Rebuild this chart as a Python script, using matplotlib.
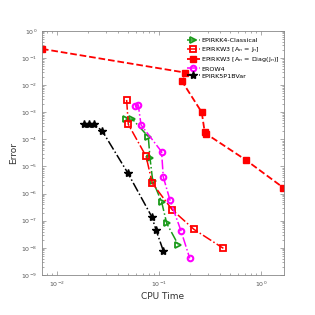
import numpy as np
import matplotlib
matplotlib.use("Agg")
import matplotlib.pyplot as plt
from matplotlib.ticker import LogLocator, NullFormatter

# data (CPU time, error)
k4_time = [0.0472, 0.0548, 0.0785, 0.0817, 0.0867, 0.106, 0.119, 0.155]
k4_err = [5.6e-4, 5.6e-4, 1.26e-4, 2.0e-5, 3.0e-6, 5.0e-7, 8.0e-8, 1.26e-8]

w3j_time = [0.0482, 0.050, 0.0746, 0.086, 0.135, 0.22, 0.427]
w3j_err = [2.84e-3, 3.6e-4, 2.4e-5, 2.4e-6, 2.5e-7, 4.8e-8, 9.6e-9]

w3d_time = [0.00713, 0.18, 0.167, 0.262, 0.28, 0.29, 0.708, 1.65]
w3d_err = [0.217, 0.029, 0.0143, 1.0e-3, 1.9e-4, 1.6e-4, 1.74e-5, 1.65e-6]

erow_time = [0.0582, 0.0627, 0.0667, 0.106, 0.110, 0.128, 0.164, 0.200]
erow_err = [1.74e-3, 1.8e-3, 3.4e-4, 3.5e-5, 4.2e-6, 5.8e-7, 4.3e-8, 4.1e-9]

p5_time = [0.0185, 0.0206, 0.0231, 0.0278, 0.0493, 0.085, 0.0935, 0.110]
p5_err = [3.6e-4, 3.6e-4, 3.6e-4, 2.04e-4, 5.9e-6, 1.4e-7, 4.6e-8, 7.9e-9]

labels = ["EPIRKK4-Classical",
          r"EPIRKW3 [A$_n$ = J$_n$]",
          r"EPIRKW3 [A$_n$ = Diag(J$_n$)]",
          "EROW4",
          "EPIRK5P1BVar"]

fig = plt.figure(figsize=(3.15, 3.15), dpi=100)
ax = fig.add_axes([0.133, 0.127, 0.769, 0.775])

lw = 1.1
ax.plot(k4_time, k4_err, '-.', color='#1a9a1a', marker='>', ms=4.5, mfc='none',
        mew=1.3, lw=lw, label=labels[0])
ax.plot(w3j_time, w3j_err, '-.', color='#ff0000', marker='s', ms=4, mfc='none',
        mew=1.3, lw=lw, label=labels[1])
ax.plot(w3d_time, w3d_err, '--', color='#ff0000', marker='s', ms=4,
        lw=1.3, label=labels[2])
ax.plot(erow_time, erow_err, '-.', color='#ff00ff', marker='o', ms=4, mfc='none',
        mew=1.5, lw=lw, label=labels[3])
ax.plot(p5_time, p5_err, '-.', color='black', marker='*', ms=6,
        lw=lw, label=labels[4])

ax.set_xscale('log')
ax.set_yscale('log')
ax.set_xlim(0.00713, 1.68)
ax.set_ylim(1e-9, 1)
ax.set_yticks([10.0**k for k in range(-9, 1)])
ax.set_xticks([1e-2, 1e-1, 1e0])
ax.yaxis.set_minor_locator(LogLocator(base=10, subs=np.arange(2, 10), numticks=20))
ax.yaxis.set_minor_formatter(NullFormatter())
ax.xaxis.set_minor_locator(LogLocator(base=10, subs=np.arange(2, 10), numticks=20))
ax.xaxis.set_minor_formatter(NullFormatter())

for s in ax.spines.values():
    s.set_color('#888888')
    s.set_linewidth(0.6)
ax.tick_params(which='both', direction='in', top=True, right=True,
               color='#888888', labelsize=4.5, labelcolor='#555555', width=0.5)
ax.tick_params(which='major', length=3)
ax.tick_params(which='minor', length=1.5)

ax.set_xlabel("CPU Time", fontsize=6.5, color='#333333', labelpad=2)
ax.set_ylabel("Error", fontsize=6.5, color='#333333', labelpad=2)

ax.legend(loc='upper right', bbox_to_anchor=(1.0, 0.99), frameon=False,
          fontsize=4.6, handlelength=2.0, handletextpad=0.2, labelspacing=0.25,
          borderaxespad=0.3)

fig.savefig("out.png", dpi=100)
